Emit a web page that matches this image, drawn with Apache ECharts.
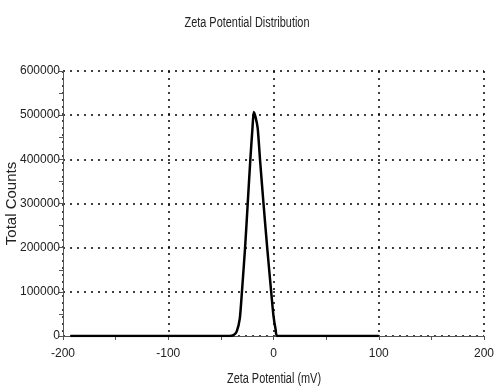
<!DOCTYPE html>
<html>
<head>
<meta charset="utf-8">
<script src="https://cdn.jsdelivr.net/npm/echarts@6/dist/echarts.min.js"></script>
<style>
  html, body { margin: 0; padding: 0; background: #fff; }
  #chart { width: 494px; height: 392px; }
</style>
</head>
<body>
<div id="chart"></div>
<script>
// zeta potential (mV) and total counts
const zeta = [-193, -42, -38, -35, -32, -30, -27, -24.5, -22, -20, -18.8, -17, -15, -12.7, -9.5, -6, -2.2, 0, 2, 3.5, 100];
const counts = [0, 0, 2000, 10000, 40000, 100000, 200000, 300000, 400000, 470000, 507000, 495000, 470000, 396000, 300000, 200000, 100000, 45000, 15000, 0, 0];

const sans = "'Liberation Sans', Arial, sans-serif";

const chart = echarts.init(document.getElementById("chart"));

const option = {
  animation: false,
  // narrow-looking texts: scaled horizontally
  graphic: [
    {
      type: "text",
      x: 247,
      y: 23,
      scaleX: 0.78,
      style: { text: "Zeta Potential Distribution", font: "14px " + sans, fill: "#222", align: "center", verticalAlign: "middle" },
    },
    {
      type: "text",
      x: 274,
      y: 379,
      scaleX: 0.78,
      style: { text: "Zeta Potential (mV)", font: "14px " + sans, fill: "#222", align: "center", verticalAlign: "middle" },
    },
  ],
  grid: { left: 63, right: 10, top: 71, bottom: 56, outerBoundsMode: "none" },
  xAxis: {
    type: "value",
    min: -200,
    max: 200,
    interval: 100,
    axisLine: { onZero: false, lineStyle: { color: "#555", width: 1 } },
    axisTick: { show: true, length: 4, lineStyle: { color: "#555" } },
    minorTick: { show: true, splitNumber: 2, length: 4, lineStyle: { color: "#555" } },
    axisLabel: { fontFamily: sans, fontSize: 12, color: "#222", margin: 12, formatter: (v) => String(v) },
    splitLine: { show: true, lineStyle: { color: "#000", type: [2, 5], width: 1.5 } },
  },
  yAxis: {
    type: "value",
    min: 0,
    max: 600000,
    interval: 100000,
    name: "Total Counts",
    nameLocation: "middle",
    nameGap: 44,
    nameMoveOverlap: false,
    nameTextStyle: { fontFamily: sans, fontSize: 15, color: "#222" },
    axisLine: { show: true, onZero: false, lineStyle: { color: "#555", width: 1 } },
    axisTick: { show: true, length: 4, lineStyle: { color: "#555" } },
    minorTick: { show: true, splitNumber: 2, length: 4, lineStyle: { color: "#555" } },
    axisLabel: { fontFamily: sans, fontSize: 12, color: "#222", margin: 3, formatter: (v) => String(v) },
    splitLine: { show: true, lineStyle: { color: "#000", type: [2, 5], width: 1.5 } },
  },
  series: [
    {
      type: "line",
      data: zeta.map((x, i) => [x, counts[i]]),
      showSymbol: false,
      smooth: 0.2,
      lineStyle: { color: "#000", width: 2.5 },
      z: 5,
    },
  ],
};

chart.setOption(option);
</script>
</body>
</html>
